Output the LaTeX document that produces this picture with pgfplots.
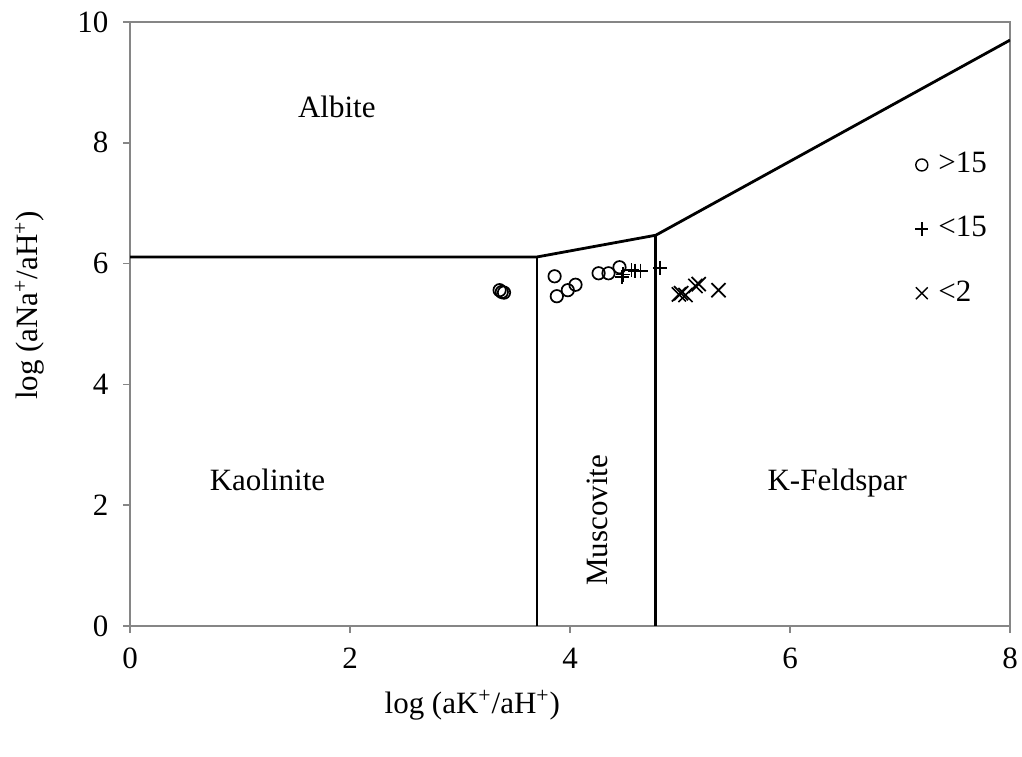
\documentclass[border=0pt]{standalone}
\usepackage{fontspec}
\setmainfont{Liberation Serif}
\usepackage{pgfplots}
\pgfplotsset{compat=1.18}
\definecolor{axisgray}{RGB}{134,134,134}
\newcommand{\chartfont}{\fontsize{15.5}{18}\selectfont}

\begin{document}
\chartfont
\begin{tikzpicture}
\begin{axis}[
  scale only axis,
  width=440pt, height=302pt,
  xmin=0, xmax=8, ymin=0, ymax=10,
  xtick={0,2,4,6,8}, ytick={0,2,4,6,8,10},
  xtick pos=bottom, ytick pos=left,
  tick align=outside,
  major tick length=3.5pt,
  axis line style={axisgray, line width=0.75pt},
  every tick/.style={axisgray, line width=0.75pt},
  /pgf/number format/assume math mode=true,
  ticklabel style={font=\chartfont, text=black},
  xticklabel style={yshift=-2pt},
  yticklabel style={xshift=-2pt},
  xlabel={log (aK\textsuperscript{+}/aH\textsuperscript{+})},
  ylabel={log (aNa\textsuperscript{+}/aH\textsuperscript{+})},
  xlabel style={at={(rel axis cs:0.389,-0.131)}, anchor=center, font=\chartfont},
  ylabel style={at={(rel axis cs:-0.114,0.531)}, anchor=center, rotate=0, font=\chartfont},
  legend style={draw=none, fill=none, at={(axis cs:7.08,7.98)}, anchor=north west,
    row sep=15.5pt, font=\chartfont,
    /tikz/every odd column/.append style={column sep=3pt}},
  legend cell align=left,
]
\coordinate (ll) at (rel axis cs:0,0);
\coordinate (ur) at (rel axis cs:1,1);

% stability field boundaries
\addplot[black, line width=1.4pt, forget plot] coordinates {(0,6.11) (3.70,6.11) (4.78,6.47) (8,9.70)};
\addplot[black, line width=1.4pt, forget plot] coordinates {(3.70,0) (3.70,6.11)};
\addplot[black, line width=1.4pt, forget plot] coordinates {(4.78,0) (4.78,6.47)};

% samples
\addplot[only marks, mark=o, mark size=3.1pt, line width=0.85pt, black,
  legend image code/.code={\draw[black, mark=o, mark size=3pt, line width=0.7pt] plot coordinates {(0.12cm,0cm)};}]
  coordinates {
  (3.36,5.56) (3.38,5.53) (3.40,5.52)
  (3.86,5.79) (3.88,5.46) (3.98,5.56) (4.05,5.65)
  (4.26,5.84) (4.35,5.84) (4.45,5.94)
};
\addlegendentry{\textgreater15}
\addplot[only marks, mark=+, mark size=3.6pt, line width=0.85pt, black,
  legend image code/.code={\draw[black, mark=+, mark size=3.3pt, line width=0.75pt] plot coordinates {(0.12cm,0cm)};}]
  coordinates {
  (4.47,5.78) (4.48,5.82) (4.56,5.89) (4.59,5.88) (4.64,5.88) (4.82,5.93)
};
\addlegendentry{\textless15}
\addplot[only marks, mark=x, mark size=5pt, line width=0.85pt, black,
  legend image code/.code={\draw[black, mark=x, mark size=4.2pt, line width=0.7pt] plot coordinates {(0.12cm,0cm)};}]
  coordinates {
  (4.99,5.49) (5.01,5.51) (5.05,5.48) (5.14,5.63) (5.17,5.66) (5.35,5.56)
};
\addlegendentry{\textless2}

% field names
\node at (axis cs:1.88,8.59) {Albite};
\node[anchor=base] at (axis cs:1.25,2.24) {Kaolinite};
\node[rotate=90] at (axis cs:4.25,1.75) {Muscovite};
\node[anchor=base] at (axis cs:6.43,2.24) {K-Feldspar};
\end{axis}
\pgfresetboundingbox
\path ([xshift=-65pt,yshift=-65pt]ll) rectangle ([xshift=6pt,yshift=11pt]ur);
\end{tikzpicture}
\end{document}
